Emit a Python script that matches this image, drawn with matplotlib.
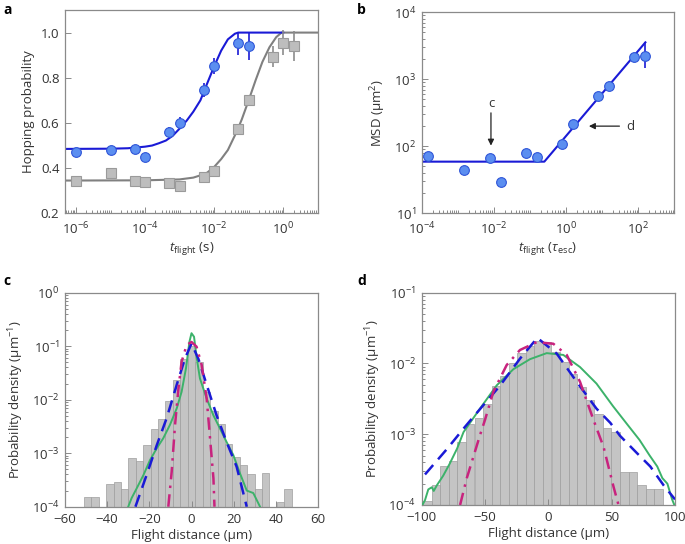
import numpy as np
import matplotlib
matplotlib.use("Agg")
import matplotlib.pyplot as plt
from matplotlib.ticker import LogLocator, NullFormatter, FixedLocator

plt.rcParams['font.family'] = ['Open Sans', 'DejaVu Sans']
plt.rcParams['mathtext.fontset'] = 'custom'
plt.rcParams['mathtext.rm'] = 'Open Sans'
plt.rcParams['mathtext.it'] = 'Open Sans:italic'
plt.rcParams['font.size'] = 9

# ---- panel a: hopping probability vs flight time ----
a_t = [1e-6, 1e-5, 5e-5, 1e-4, 5e-4, 1e-3, 5e-3, 1e-2, 5e-2, 1e-1]
a_blue = [0.472, 0.48, 0.483, 0.449, 0.56, 0.60, 0.746, 0.852, 0.953, 0.94]
a_blue_err = [0.008, 0.008, 0.012, 0.012, 0.02, 0.025, 0.03, 0.035, 0.05, 0.06]
a_t_gray = [1e-6, 1e-5, 5e-5, 1e-4, 5e-4, 1e-3, 5e-3, 1e-2, 5e-2, 1e-1, 5e-1, 1.0, 2.0]
a_gray = [0.343, 0.38, 0.343, 0.339, 0.336, 0.321, 0.362, 0.389, 0.575, 0.702, 0.894, 0.956, 0.941]
a_gray_err = [0.005, 0.005, 0.005, 0.005, 0.005, 0.005, 0.008, 0.01, 0.015, 0.02, 0.045, 0.055, 0.065]

fit_blue_t = [4.8e-7, 1e-5, 3.2e-5, 1e-4, 1.6e-4, 2.5e-4, 4e-4, 6.3e-4, 1e-3, 1.6e-3,
              2.5e-3, 4e-3, 6.3e-3, 1e-2, 1.6e-2, 2.5e-2, 4e-2, 5e-2, 1.0]
fit_blue_p = [0.485, 0.486, 0.488, 0.495, 0.50, 0.51, 0.522, 0.543, 0.575, 0.61,
              0.65, 0.70, 0.775, 0.85, 0.92, 0.97, 0.995, 1.0, 1.0]
fit_gray_t = [4.8e-7, 1e-4, 1e-3, 2.5e-3, 4e-3, 6.3e-3, 1e-2, 1.6e-2, 2.5e-2, 4e-2,
              5e-2, 6.3e-2, 1e-1, 1.6e-1, 2.5e-1, 4e-1, 6.3e-1, 0.9, 10.0]
fit_gray_p = [0.345, 0.346, 0.35, 0.358, 0.368, 0.38, 0.405, 0.44, 0.48, 0.545,
              0.578, 0.615, 0.70, 0.79, 0.87, 0.935, 0.98, 1.0, 1.0]

# ---- panel b: MSD vs flight time ----
b_t = [1.5e-4, 1.5e-3, 7.9e-3, 1.55e-2, 7.8e-2, 0.155, 0.76, 1.55, 7.6, 15.3, 76, 153]
b_msd = [72, 45, 67, 29, 80, 70, 110, 214, 563, 787, 2180, 2250]
b_fit_t = [1e-4, 0.25, 158]
b_fit_msd = [59, 59, 3560]

# ---- panel c: short-flight distance histogram ----
c_centers = [-49.3, -45.8, -42.2, -38.7, -35.2, -31.7, -28.2, -24.6, -21.1, -17.6,
             -14.1, -10.6, -7.0, -3.5, 0.0, 3.5, 7.0, 10.6, 14.1, 17.6,
             21.1, 24.6, 28.2, 31.7, 35.2, 38.7, 42.2, 45.8]
c_density = [1.4e-4, 1.4e-4, 0, 2.5e-4, 2.85e-4, 2.0e-4, 8.0e-4, 7.1e-4, 1.42e-3, 2.8e-3,
             4.3e-3, 9.5e-3, 2.3e-2, 5.8e-2, 0.1, 0.05, 1.4e-2, 6.2e-3, 3.5e-3, 1.5e-3,
             8.4e-4, 6.0e-4, 4.0e-4, 2.0e-4, 4.2e-4, 0, 1.1e-4, 2.0e-4]
c_green_x = [-30, -28.4, -26, -22.8, -19.7, -16.5, -13.4, -10.2, -7, -4.7, -2.6, -1, 0,
             1.2, 2.5, 4, 7.2, 10.4, 13.5, 16.7, 19.8, 23, 26.2, 29.3, 32.5]
c_green_y = [1e-4, 1.45e-4, 2.2e-4, 3.9e-4, 7.4e-4, 1.23e-3, 1.9e-3, 3.4e-3, 6.9e-3, 1.4e-2,
             3.9e-2, 0.12, 0.175, 0.15, 5.9e-2, 2.5e-2, 1.05e-2, 5.1e-3, 2.9e-3, 1.6e-3,
             9.3e-4, 4.2e-4, 2.0e-4, 1.8e-4, 1e-4]
c_blue_x = [-26.6, -21.3, -16.5, -11.8, -7, -3.1, 0, 3.2, 7.2, 11.9, 16.7, 21.4, 26.2]
c_blue_y = [1e-4, 3.9e-4, 1.4e-3, 4.5e-3, 1.9e-2, 5.9e-2, 0.112, 5.9e-2, 1.9e-2, 5.1e-3,
            1.6e-3, 5.6e-4, 1e-4]
c_mag_x = [-11, -9.4, -7.8, -6.2, -4.7, -2.3, 0, 2.4, 4.8, 7.2, 8.8, 10.4, 10.9]
c_mag_y = [1e-4, 4.5e-4, 3.4e-3, 1.6e-2, 5.1e-2, 0.105, 0.12, 0.098, 4.5e-2, 1.05e-2,
           1.9e-3, 3.4e-4, 1e-4]

# ---- panel d: long-flight distance histogram ----
d_left = [-98.9, -92.1, -85.4, -78.6, -71.9, -65.1, -58.3, -51.6, -44.8, -38.1,
          -31.3, -24.5, -17.8, -11.0, -4.3, 2.5, 9.3, 16.0, 22.8, 29.5,
          36.3, 43.1, 49.8, 56.6, 63.3, 70.1, 76.9, 83.6]
d_density = [1.03e-4, 1.8e-4, 3.4e-4, 4.1e-4, 7.6e-4, 1.4e-3, 1.7e-3, 2.7e-3, 4.8e-3, 6.6e-3,
             1.03e-2, 1.4e-2, 1.76e-2, 2.07e-2, 2.04e-2, 1.46e-2, 1.06e-2, 7.0e-3, 4.7e-3, 3.0e-3,
             1.9e-3, 1.2e-3, 1.05e-3, 2.8e-4, 2.8e-4, 1.8e-4, 1.6e-4, 1.6e-4]
d_green_x = [-99.5, -97.4, -94.8, -92, -90.5, -88, -83, -78, -72, -67, -54, -40.8, -27.6,
             -14.5, -1.3, 11.8, 25, 38, 51, 62, 72, 80, 86, 90, 94, 97.7, 99.5]
d_green_y = [1.0e-4, 1.17e-4, 1.66e-4, 1.78e-4, 1.58e-4, 1.9e-4, 2.6e-4, 3.8e-4, 6.3e-4, 1.07e-3,
             2.3e-3, 4.9e-3, 8.3e-3, 1.15e-2, 1.4e-2, 1.32e-2, 8.9e-3, 5.2e-3, 2.5e-3, 1.4e-3,
             8.3e-4, 5.0e-4, 3.5e-4, 2.4e-4, 2.0e-4, 1.2e-4, 1.0e-4]
d_blue_x = [-97.4, -80, -67, -61.8, -38, -22.4, -8.7, 6.6, 22.4, 38, 48.9, 56.6, 70, 80.5, 91, 100]
d_blue_y = [2.7e-4, 6.2e-4, 1.2e-3, 1.55e-3, 4.9e-3, 1.17e-2, 2.3e-2, 1.38e-2, 5.5e-3, 2.3e-3,
            1.45e-3, 9.5e-4, 5.4e-4, 3.5e-4, 1.9e-4, 1.2e-4]
d_mag_x = [-69.7, -64.4, -59.2, -53.9, -50, -43.4, -32.9, -22.4, -9.2, 3.9, 14.5, 25, 35.6,
           43.6, 51.5, 55.4]
d_mag_y = [1e-4, 2.4e-4, 4.8e-4, 9.8e-4, 1.6e-3, 4.0e-3, 9.5e-3, 1.55e-2, 2.0e-2, 1.9e-2,
           1.32e-2, 5.5e-3, 1.6e-3, 6.6e-4, 1.8e-4, 1e-4]

SPINE = '#8a8a8a'
TXT = '#333333'
BLUE_LINE = '#1a1ad6'
BLUE_FACE = '#5b8ef0'
BLUE_EDGE = '#2f55d8'
GRAY_LINE = '#808080'
GREEN = '#3cb26a'
MAGENTA = '#c8237e'


def style_axes(ax, xpad=5.5):
    for sp in ax.spines.values():
        sp.set_color(SPINE)
        sp.set_linewidth(0.9)
    ax.tick_params(which='both', direction='in', color=SPINE, labelcolor=TXT,
                   labelsize=9.5, top=False, right=False, width=0.7)
    ax.tick_params(which='major', length=4)
    ax.tick_params(which='minor', length=2.2)
    ax.tick_params(axis='x', which='major', pad=xpad)
    ax.tick_params(axis='y', which='major', pad=4)


fig = plt.figure(figsize=(6.85, 5.44), dpi=100)
W, H = 685.0, 544.0


def add_axes(left, right, top, bottom):
    return fig.add_axes([left / W, 1 - bottom / H, (right - left) / W, (bottom - top) / H])


# panel a
ax = add_axes(65, 318, 10, 213.3)
ax.plot(fit_gray_t, fit_gray_p, color=GRAY_LINE, lw=1.5, zorder=2)
ax.plot(fit_blue_t, fit_blue_p, color=BLUE_LINE, lw=1.5, zorder=2)
ax.errorbar(a_t_gray, a_gray, yerr=a_gray_err, fmt='s', ms=7, mfc='#bdbdbd', mec='#9a9a9a',
            mew=0.8, ecolor='#8c8c8c', elinewidth=1.2, capsize=0, zorder=3)
ax.errorbar(a_t, a_blue, yerr=a_blue_err, fmt='o', ms=7, mfc=BLUE_FACE, mec=BLUE_EDGE,
            mew=0.8, ecolor=BLUE_LINE, elinewidth=1.2, capsize=0, zorder=4)
ax.set_xscale('log')
ax.set_xlim(4.8e-7, 1.02e1)
ax.set_ylim(0.2, 1.1)
ax.set_yticks([0.2, 0.4, 0.6, 0.8, 1.0])
ax.set_yticklabels(['0.2', '0.4', '0.6', '0.8', '1.0'])
ax.xaxis.set_major_locator(FixedLocator([1e-6, 1e-4, 1e-2, 1e0]))
ax.xaxis.set_minor_locator(LogLocator(base=10, subs=np.arange(1, 10), numticks=20))
ax.xaxis.set_minor_formatter(NullFormatter())
style_axes(ax)
ax.set_ylabel('Hopping probability', color=TXT, fontsize=9.5)
ax.set_xlabel(r'$t_{\mathrm{flight}}$ (s)', color=TXT, fontsize=9.5, labelpad=2)
fig.text(3 / W, 1 - 10 / H, 'a', fontsize=10, fontweight='bold', va='center')

# panel b
ax = add_axes(421.7, 674.3, 12.3, 213.3)
ax.plot(b_fit_t, b_fit_msd, color=BLUE_LINE, lw=1.5, zorder=2)
ax.errorbar(b_t[-1:], b_msd[-1:], yerr=[[800], [1310]], fmt='none', ecolor=BLUE_LINE,
            elinewidth=1.2, zorder=3)
ax.plot(b_t, b_msd, 'o', ms=7, mfc=BLUE_FACE, mec=BLUE_EDGE, mew=0.8, zorder=4)
ax.set_xscale('log')
ax.set_yscale('log')
ax.set_xlim(1e-4, 1e3)
ax.set_ylim(10, 1e4)
ax.xaxis.set_major_locator(FixedLocator([1e-4, 1e-2, 1e0, 1e2]))
ax.xaxis.set_minor_locator(LogLocator(base=10, subs=np.arange(1, 10), numticks=20))
ax.xaxis.set_minor_formatter(NullFormatter())
ax.yaxis.set_minor_locator(LogLocator(base=10, subs=np.arange(2, 10), numticks=20))
ax.yaxis.set_minor_formatter(NullFormatter())
style_axes(ax)
ax.annotate('', xy=(8.3e-3, 93), xytext=(8.3e-3, 347),
            arrowprops=dict(arrowstyle='-|>', color='#222222', lw=0.9, mutation_scale=9))
ax.text(8.3e-3, 440, 'c', ha='center', va='center', color=TXT, fontsize=9.5)
ax.annotate('', xy=(3.6, 200), xytext=(36, 200),
            arrowprops=dict(arrowstyle='-|>', color='#222222', lw=0.9, mutation_scale=9))
ax.text(62, 200, 'd', ha='center', va='center', color=TXT, fontsize=9.5)
ax.set_ylabel(r'MSD (µm$^2$)', color=TXT, fontsize=9.5)
ax.set_xlabel(r'$t_{\mathrm{flight}}$ ($\tau_{\mathrm{esc}}$)', color=TXT, fontsize=9.5,
              labelpad=2)
fig.text(357 / W, 1 - 10 / H, 'b', fontsize=10, fontweight='bold', va='center')

# panel c
ax = add_axes(65, 318, 292.7, 506.7)
ax.bar(c_centers, c_density, width=3.52, color='#c4c4c4', edgecolor='#9e9e9e', lw=0.5,
       bottom=1e-5, zorder=1)
ax.plot(c_green_x, c_green_y, color=GREEN, lw=1.4, zorder=3)
ax.plot(c_blue_x, c_blue_y, color=BLUE_LINE, lw=1.8, ls=(0, (5, 3)), zorder=4)
ax.plot(c_mag_x, c_mag_y, color=MAGENTA, lw=1.8, ls=(0, (5, 2.5, 1, 2.5)), zorder=5)
ax.set_yscale('log')
ax.set_xlim(-60, 60)
ax.set_ylim(1e-4, 1)
ax.set_xticks([-60, -40, -20, 0, 20, 40, 60])
ax.set_xticklabels(['\u221260', '\u221240', '\u221220', '0', '20', '40', '60'])
ax.yaxis.set_minor_locator(LogLocator(base=10, subs=np.arange(2, 10), numticks=20))
ax.yaxis.set_minor_formatter(NullFormatter())
style_axes(ax, xpad=4.5)
ax.set_ylabel(r'Probability density (µm$^{-1}$)', color=TXT, fontsize=9.5)
ax.set_xlabel('Flight distance (µm)', color=TXT, fontsize=9.5, labelpad=2)
fig.text(3 / W, 1 - 281 / H, 'c', fontsize=10, fontweight='bold', va='center')

# panel d
ax = add_axes(421.7, 675, 292.7, 505)
ax.bar(d_left, d_density, width=6.76, align='edge', color='#c4c4c4', edgecolor='#9e9e9e',
       lw=0.5, bottom=1e-5, zorder=1)
ax.plot(d_green_x, d_green_y, color=GREEN, lw=1.4, zorder=3)
ax.plot(d_blue_x, d_blue_y, color=BLUE_LINE, lw=1.8, ls=(0, (5, 3)), zorder=4)
ax.plot(d_mag_x, d_mag_y, color=MAGENTA, lw=1.8, ls=(0, (5, 2.5, 1, 2.5)), zorder=5)
ax.set_yscale('log')
ax.set_xlim(-100, 100)
ax.set_ylim(1e-4, 1e-1)
ax.set_xticks([-100, -50, 0, 50, 100])
ax.set_xticklabels(['\u2212100', '\u221250', '0', '50', '100'])
ax.yaxis.set_minor_locator(LogLocator(base=10, subs=np.arange(2, 10), numticks=20))
ax.yaxis.set_minor_formatter(NullFormatter())
style_axes(ax, xpad=4.5)
ax.set_ylabel(r'Probability density (µm$^{-1}$)', color=TXT, fontsize=9.5)
ax.set_xlabel('Flight distance (µm)', color=TXT, fontsize=9.5, labelpad=2)
fig.text(357 / W, 1 - 281 / H, 'd', fontsize=10, fontweight='bold', va='center')

fig.savefig('out.png', dpi=100)
